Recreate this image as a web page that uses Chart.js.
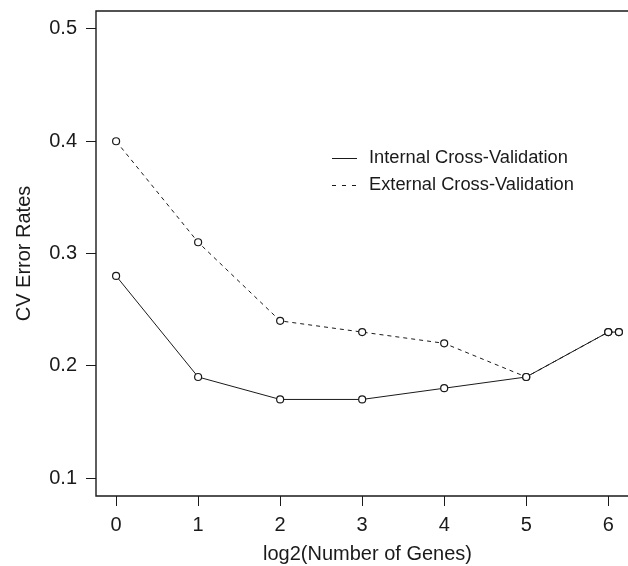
<!DOCTYPE html>
<html>
<head>
<meta charset="utf-8">
<script src="https://cdn.jsdelivr.net/npm/chart.js@4/dist/chart.umd.min.js"></script>
<style>
html,body{margin:0;padding:0;background:#fff;overflow:hidden;width:628px;height:566px;}
#wrap{position:absolute;left:0;top:0;width:660px;height:566px;}
canvas{display:block;}
</style>
</head>
<body>
<div id="wrap"><canvas id="c" width="660" height="566"></canvas></div>
<script>
const log2Genes = [0, 1, 2, 3, 4, 5, 6, 6.13];
const internalCV = [0.28, 0.19, 0.17, 0.17, 0.18, 0.19, 0.23, 0.23];
const externalCV = [0.40, 0.31, 0.24, 0.23, 0.22, 0.19, 0.23, 0.23];
const xTickValues = [0, 1, 2, 3, 4, 5, 6];
const yTickValues = [0.1, 0.2, 0.3, 0.4, 0.5];
const seriesLabels = ['Internal Cross-Validation', 'External Cross-Validation'];

const FONT = 'Liberation Sans, Arial, Helvetica, sans-serif';
const INK = '#1a1a1a';

// R-style box: its right side lies beyond the visible page, so only top/left/bottom are drawn
const boxPlugin = {
  id: 'rbox',
  afterDraw(chart) {
    const {ctx, chartArea: a} = chart;
    ctx.save();
    ctx.strokeStyle = INK;
    ctx.lineWidth = 1.4;
    ctx.beginPath();
    ctx.moveTo(chart.width + 5, a.top);
    ctx.lineTo(a.left, a.top);
    ctx.lineTo(a.left, a.bottom);
    ctx.lineTo(chart.width + 5, a.bottom);
    ctx.stroke();
    ctx.restore();
  }
};

const legendPlugin = {
  id: 'inLegend',
  afterDraw(chart) {
    const {ctx} = chart;
    const x0 = 332, x1 = 357, tx = 369;
    const rows = [158, 185];
    ctx.save();
    ctx.font = '18.3px ' + FONT;
    ctx.textBaseline = 'middle';
    ctx.fillStyle = INK;
    chart.data.datasets.forEach((ds, i) => {
      const y = rows[i];
      ctx.strokeStyle = INK;
      ctx.lineWidth = 1;
      ctx.setLineDash(ds.borderDash && ds.borderDash.length ? [4, 6] : []);
      ctx.beginPath();
      ctx.moveTo(x0, y + 0.5);
      ctx.lineTo(x1, y + 0.5);
      ctx.stroke();
      ctx.setLineDash([]);
      ctx.fillText(ds.label, tx, y);
    });
    ctx.restore();
  }
};

function pts(ys) { return log2Genes.map((x, i) => ({x: x, y: ys[i]})); }
function noPad(s) { s.paddingTop = 0; s.paddingBottom = 0; s.paddingLeft = 0; s.paddingRight = 0; }

const common = {
  borderColor: INK,
  borderWidth: 1,
  pointRadius: 3.5,
  pointBorderWidth: 1.2,
  pointBorderColor: INK,
  pointBackgroundColor: '#fff',
  pointStyle: 'circle',
  tension: 0,
  fill: false,
  showLine: true
};

new Chart(document.getElementById('c'), {
  type: 'scatter',
  data: {
    datasets: [
      Object.assign({label: seriesLabels[0], data: pts(internalCV), borderDash: []}, common),
      Object.assign({label: seriesLabels[1], data: pts(externalCV), borderDash: [4, 4]}, common)
    ]
  },
  options: {
    responsive: false,
    devicePixelRatio: 1,
    animation: false,
    layout: {padding: {top: 11, right: 21, bottom: 0, left: 0}},
    plugins: {legend: {display: false}, tooltip: {enabled: false}},
    scales: {
      x: {
        type: 'linear',
        min: -0.245,
        max: 6.375,
        afterBuildTicks(s) { s.ticks = xTickValues.map(v => ({value: v})); },
        afterFit(s) { s.height = 70; noPad(s); },
        grid: {drawOnChartArea: false, drawTicks: true, tickLength: 10, tickColor: INK, tickWidth: 1},
        border: {display: false},
        ticks: {font: {family: FONT, size: 20}, color: INK, padding: 7, maxRotation: 0, autoSkip: false,
                callback: v => String(v)},
        title: {display: true, text: 'log2(Number of Genes)', font: {family: FONT, size: 20}, color: INK,
                padding: {top: 0, bottom: 0}}
      },
      y: {
        type: 'linear',
        min: 0.084,
        max: 0.516,
        afterBuildTicks(s) { s.ticks = yTickValues.map(v => ({value: v})); },
        afterFit(s) { s.width = 96; noPad(s); },
        grid: {drawOnChartArea: false, drawTicks: true, tickLength: 10, tickColor: INK, tickWidth: 1},
        border: {display: false},
        ticks: {font: {family: FONT, size: 20}, color: INK, padding: 9, autoSkip: false,
                callback: v => v.toFixed(1)},
        title: {display: true, text: 'CV Error Rates', font: {family: FONT, size: 20}, color: INK,
                padding: {top: 12, bottom: 0}}
      }
    }
  },
  plugins: [boxPlugin, legendPlugin]
});
</script>
</body>
</html>
